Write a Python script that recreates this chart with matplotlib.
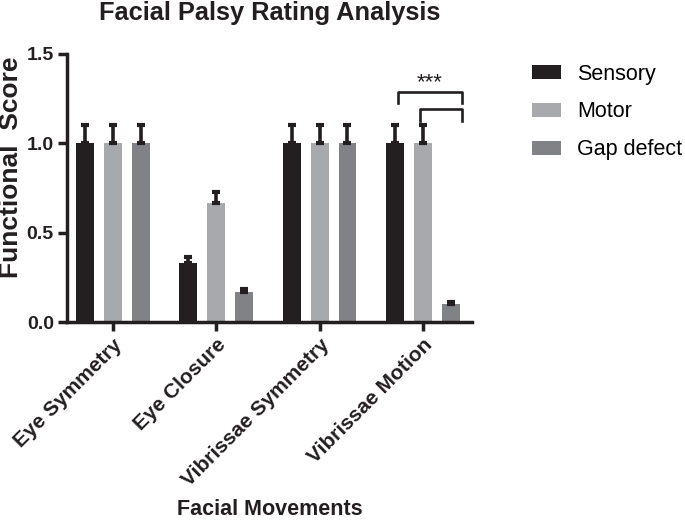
import numpy as np
import matplotlib.pyplot as plt

plt.rcParams['font.family'] = ['Liberation Sans', 'DejaVu Sans']

movements = ['Eye Symmetry', 'Eye Closure', 'Vibrissae Symmetry', 'Vibrissae Motion']
groups = ['Sensory', 'Motor', 'Gap defect']
sensory = [1.0, 0.333, 1.0, 1.0]
motor = [1.0, 0.667, 1.0, 1.0]
gap = [1.0, 0.167, 1.0, 0.1]
sensory_err = [0.1, 0.03, 0.1, 0.1]
motor_err = [0.1, 0.062, 0.1, 0.1]
gap_err = [0.1, 0.016, 0.1, 0.012]
colors = ['#231f20', '#a7a9ac', '#808285']
dark = '#231f20'

fig = plt.figure(figsize=(6.85, 5.22), dpi=100)
ax = fig.add_axes([0.0978, 0.383, 0.591, 0.514])

ind = np.arange(len(movements))
width = 0.174
step = 0.27
series = [(sensory, sensory_err), (motor, motor_err), (gap, gap_err)]
for k, (vals, errs) in enumerate(series):
    pos = ind + (k - 1) * step
    ax.bar(pos, vals, width, color=colors[k], label=groups[k], zorder=2)
    ax.errorbar(pos, vals, yerr=[np.zeros(len(vals)), errs], fmt='none',
                ecolor=dark, elinewidth=2.6, capsize=3, capthick=3, zorder=3)

# significance brackets on Vibrissae Motion
x_s = ind[3] - step + 0.024
x_m = ind[3] - 0.03
x_r = ind[3] + step + 0.112
ax.plot([x_s, x_s, x_r, x_r], [1.225, 1.289, 1.289, 1.225], color=dark, lw=1.9, clip_on=False)
ax.plot([x_m, x_m, x_r, x_r], [1.125, 1.192, 1.192, 1.125], color=dark, lw=1.9, clip_on=False)
ax.text((x_s + x_r) / 2, 1.31, '***', ha='center', va='baseline', fontsize=16, color=dark)

ax.set_xlim(-0.444, 3.473)
ax.set_ylim(0, 1.5)
ax.set_yticks([0.0, 0.5, 1.0, 1.5])
ax.set_yticklabels(['0.0', '0.5', '1.0', '1.5'])
ax.set_xticks(ind)
ax.set_xticklabels(movements, rotation=45, ha='right', rotation_mode='anchor')
for lab in ax.get_yticklabels():
    lab.set_fontweight('bold')
    lab.set_fontsize(14)
    lab.set_color(dark)
for lab in ax.get_xticklabels():
    lab.set_fontweight('bold')
    lab.set_fontsize(15)
    lab.set_color(dark)

ax.spines['top'].set_visible(False)
ax.spines['right'].set_visible(False)
for s in ['left', 'bottom']:
    ax.spines[s].set_linewidth(2.5)
    ax.spines[s].set_color(dark)
ax.tick_params(axis='both', direction='out', length=6.5, width=2.5, color=dark, pad=3)

ax.set_title('Facial Palsy Rating Analysis', fontsize=18.3, fontweight='bold', color=dark, pad=24)
ax.set_ylabel('Functional  Score', fontsize=19, fontweight='bold', color=dark, va='center')
ax.yaxis.set_label_coords(-0.138, 0.578)
ax.set_xlabel('Facial Movements', fontsize=15.5, fontweight='bold', color=dark, va='center')
ax.xaxis.set_label_coords(0.5, -0.698)

ax.legend(loc='upper left', bbox_to_anchor=(0.776, 0.878), bbox_transform=fig.transFigure,
          frameon=False, fontsize=15.5, borderpad=0, borderaxespad=0,
          handlelength=1.35, handleheight=0.65, labelspacing=0.78, handletextpad=0.75)

fig.savefig('out.png', dpi=100)
